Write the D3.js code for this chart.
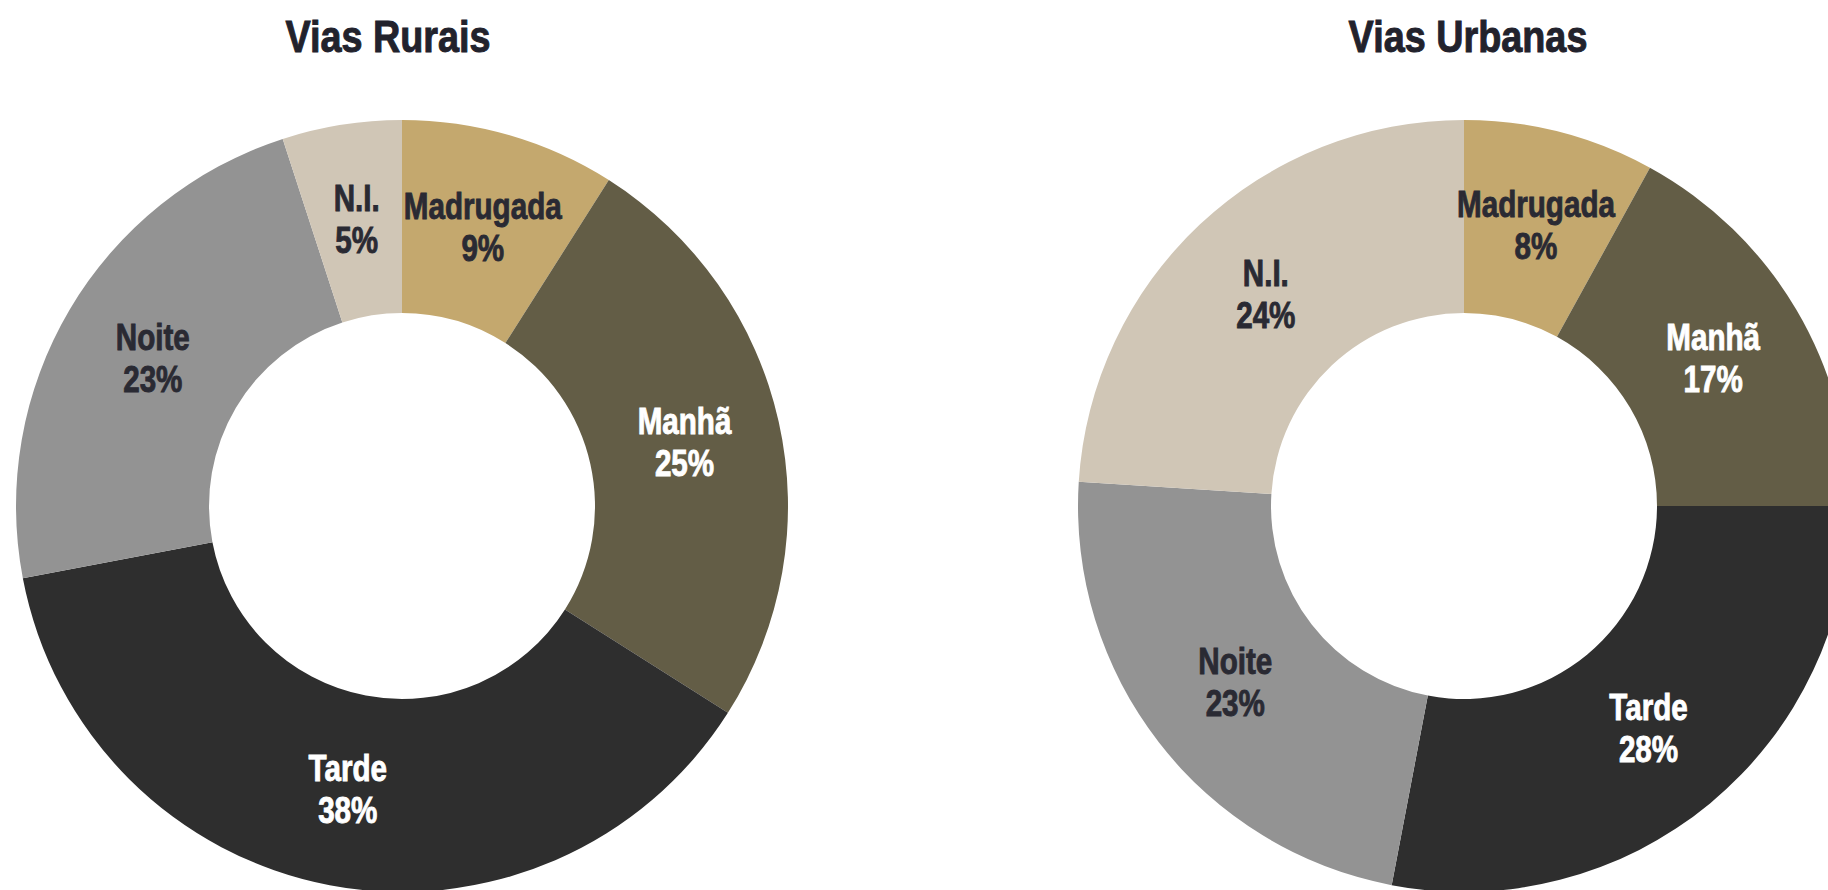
<!DOCTYPE html>
<html>
<head>
<meta charset="utf-8">
<script src="https://cdn.jsdelivr.net/npm/d3@7"></script>
<style>
  html, body { margin: 0; padding: 0; background: #ffffff; overflow: hidden; }
  svg { display: block; }
  text { font-family: 'Liberation Sans', Arial, 'Helvetica', sans-serif; font-weight: bold; }
</style>
</head>
<body>
<svg id="chart" width="1828" height="890"></svg>
<script>
// Accidents by period of the day, rural vs urban roads (%)
const categories = ["Madrugada", "Manhã", "Tarde", "Noite", "N.I."];
const ruralValues = [9, 25, 38, 23, 5];
const urbanValues = [8, 17, 28, 23, 24];
const chartTitles = ["Vias Rurais", "Vias Urbanas"];

const sliceColors = ["#c4a86e", "#635d46", "#2e2e2e", "#939393", "#d0c6b6"];
const labelColors = ["#2a2a33", "#ffffff", "#ffffff", "#2a2a33", "#2a2a33"];

const svg = d3.select("#chart");

const outerR = 386, innerR = 193;
const panels = [
  { title: chartTitles[0], values: ruralValues, cx: 402, cy: 506, titleX: 388 },
  { title: chartTitles[1], values: urbanValues, cx: 1464, cy: 506, titleX: 1468 }
];

// condensed look: regular bold face squeezed horizontally
const squeezeTitle = 0.84;
const squeezeLabel = 0.80;

const color = d3.scaleOrdinal().domain(categories).range(sliceColors);
const textColor = d3.scaleOrdinal().domain(categories).range(labelColors);

const pie = d3.pie().sort(null).value(d => d.value);
const arc = d3.arc().innerRadius(innerR).outerRadius(outerR);

panels.forEach(p => {
  const data = categories.map((c, i) => ({ category: c, value: p.values[i] }));
  const arcs = pie(data);

  svg.append("text")
    .attr("transform", `translate(${p.titleX},52) scale(${squeezeTitle},1)`)
    .attr("text-anchor", "middle")
    .attr("font-size", 45)
    .attr("fill", "#22222c")
    .attr("stroke", "#22222c")
    .attr("stroke-width", 1)
    .text(p.title);

  const g = svg.append("g").attr("transform", `translate(${p.cx},${p.cy})`);

  g.selectAll("path.slice")
    .data(arcs)
    .join("path")
    .attr("class", "slice")
    .attr("d", arc)
    .attr("fill", d => color(d.data.category));

  const labels = g.selectAll("g.label")
    .data(arcs)
    .join("g")
    .attr("class", "label")
    .attr("transform", d => {
      const [x, y] = arc.centroid(d);
      return `translate(${x},${y})`;
    });

  labels.each(function(d) {
    const sel = d3.select(this);
    const fill = textColor(d.data.category);
    [d.data.category, d.data.value + "%"].forEach((t, k) => {
      sel.append("text")
        .attr("transform", `translate(0,${k === 0 ? -9 : 33}) scale(${squeezeLabel},1)`)
        .attr("text-anchor", "middle")
        .attr("font-size", 37)
        .attr("fill", fill)
        .attr("stroke", fill)
        .attr("stroke-width", 0.9)
        .text(t);
    });
  });
});
</script>
</body>
</html>
